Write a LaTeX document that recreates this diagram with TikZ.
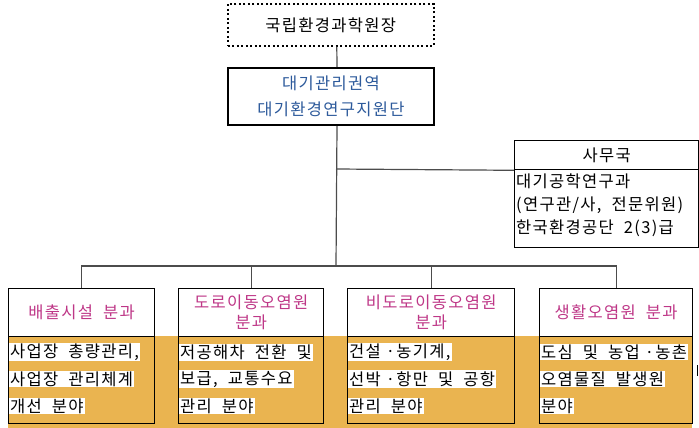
\documentclass[tikz,border=0pt]{standalone}
\usepackage{fontspec}
\setmainfont{Noto Sans CJK KR}[LetterSpace=8]
\definecolor{deptblue}{RGB}{45,90,155}
\definecolor{teampink}{RGB}{190,55,135}
\definecolor{bandorange}{RGB}{234,180,80}

\begin{document}
\begin{tikzpicture}[x=1pt, y=-1pt,
    box/.style={draw, line width=1.3pt, inner sep=0pt, anchor=north west},
    txt/.style={font=\fontsize{16.5}{20}\selectfont},
    hl/.style={fill=white, anchor=west, inner sep=1pt, font=\fontsize{16.5}{18}\selectfont},
    conn/.style={draw=black!70, line width=1.2pt}]
\useasboundingbox (0,0) rectangle (699,428);
\fill[bandorange] (8,336) rectangle (692,428);

% top of the chart
\node[box, txt, line width=1.6pt, dash pattern=on 2pt off 2.5pt, minimum width=206pt, minimum height=42pt] (chief) at (227,3) {국립환경과학원장};
\node[box, line width=2pt, minimum width=206pt, minimum height=57pt, align=center,
      text=deptblue, font=\fontsize{16.5}{26}\selectfont] (dept) at (227,67) {대기관리권역\\대기환경연구지원단};

% office
\node[box, txt, minimum width=184pt, minimum height=29pt] (offhead) at (514,140) {사무국};
\node[box, minimum width=184pt, minimum height=78pt] (offbody) at (514,169) {};
\node[anchor=north west, align=left, inner sep=0pt, font=\fontsize{16.5}{23}\selectfont] (offtext) at (516,174)
     {대기공학연구과\\(연구관/사,\ \ 전문위원)\\한국환경공단\ \ 2(3)급};

% teams
\node[box, txt, minimum width=146pt, minimum height=48pt, text=teampink] (t1) at (8,288) {배출시설\ \ 분과};
\node[box, minimum width=146pt, minimum height=87pt] (b1) at (8,336) {};
\node[box, txt, minimum width=145pt, minimum height=48pt, text=teampink, align=center] (t2) at (178,288) {도로이동오염원\\분과};
\node[box, minimum width=145pt, minimum height=87pt] (b2) at (178,336) {};
\node[box, txt, minimum width=167pt, minimum height=48pt, text=teampink, align=center] (t3) at (347,288) {비도로이동오염원\\분과};
\node[box, minimum width=167pt, minimum height=87pt] (b3) at (347,336) {};
\node[box, txt, minimum width=153pt, minimum height=48pt, text=teampink] (t4) at (539,288) {생활오염원\ \ 분과};
\node[box, minimum width=153pt, minimum height=87pt] (b4) at (539,336) {};

\node[hl] (b1a) at (9,352) {사업장\ \ 총량관리,};
\node[hl] (b1b) at (9,379) {사업장\ \ 관리체계\ };
\node[hl] (b1c) at (9,406) {개선\ \ 분야};
\node[hl] (b2a) at (179,352) {저공해차\ \ 전환\ \ 및};
\node[hl] (b2b) at (179,379) {보급,\ \ 교통수요\ };
\node[hl] (b2c) at (179,406) {관리\ \ 분야};
\node[hl] (b3a) at (348,352) {건설\ ·농기계,\ };
\node[hl] (b3b) at (348,379) {선박\ ·항만\ \ 및\ \ 공항\ };
\node[hl] (b3c) at (348,406) {관리\ \ 분야};
\node[hl] (b4a) at (540,352) {도심\ \ 및\ \ 농업\ ·농촌};
\node[hl] (b4b) at (540,379) {오염물질\ \ 발생원\ };
\node[hl] (b4c) at (540,406) {분야\ };

% connectors
\coordinate (tap) at (336,169);
\coordinate (hub) at (336,266);
\draw[conn] ([xshift=6pt]chief.south) -- ([xshift=6pt]dept.north);
\draw[conn] ([xshift=6pt]dept.south) -- (hub);
\draw[conn] (tap) -- (offhead.south west);
\draw[conn] (t1.north) |- (hub) -| (t4.north);
\draw[conn] (t2.north) -- (t2.north |- hub);
\draw[conn] (t3.north) -- (t3.north |- hub);
\draw[line width=1pt] (697,365) -- (697,376);
\end{tikzpicture}
\end{document}
